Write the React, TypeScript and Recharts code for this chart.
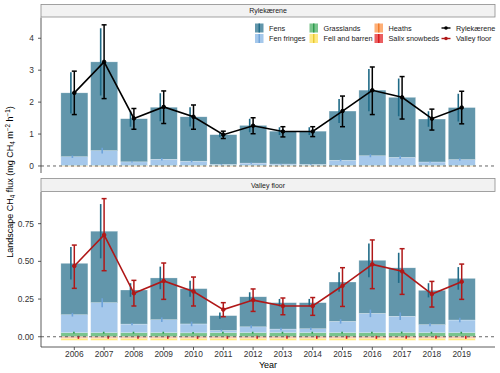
import React from "react";
import { ComposedChart, Bar, Line, XAxis, YAxis, ErrorBar, ReferenceLine } from "recharts";

const years = ["2006", "2007", "2008", "2009", "2010", "2011", "2012", "2013", "2014", "2015", "2016", "2017", "2018", "2019"];

// Rylekærene, mg CH4 m-2 h-1
const ryFens = [2.0, 2.78, 1.35, 1.63, 1.39, 0.93, 1.18, 1.03, 1.04, 1.54, 2.055, 1.88, 1.345, 1.63];
const ryFenFringes = [0.27, 0.46, 0.11, 0.19, 0.13, 0.03, 0.07, 0.04, 0.03, 0.16, 0.3, 0.25, 0.105, 0.18];
const ryGrasslands = [0.02, 0.02, 0.02, 0.02, 0.02, 0.02, 0.02, 0.02, 0.02, 0.02, 0.02, 0.02, 0.02, 0.02];
const ryHeaths = [-0.008, -0.008, -0.008, -0.008, -0.008, -0.008, -0.008, -0.008, -0.008, -0.008, -0.008, -0.008, -0.008, -0.008];
const ryFell = [-0.006, -0.006, -0.006, -0.006, -0.006, -0.006, -0.006, -0.006, -0.006, -0.006, -0.006, -0.006, -0.006, -0.006];
const rySalix = [-0.004, -0.004, -0.004, -0.004, -0.004, -0.004, -0.004, -0.004, -0.004, -0.004, -0.004, -0.004, -0.004, -0.004];
const ryFensErr = [0.645, 1.05, 0.25, 0.44, 0.3, 0.08, 0.21, 0.12, 0.12, 0.375, 0.66, 0.59, 0.245, 0.435];
const ryFringeErr = [0.04, 0.09, 0.02, 0.04, 0.03, 0.01, 0.02, 0.01, 0.01, 0.03, 0.05, 0.05, 0.02, 0.04];
const ryTotal = [2.29, 3.26, 1.49, 1.85, 1.54, 0.98, 1.26, 1.08, 1.08, 1.72, 2.37, 2.15, 1.48, 1.83];
const ryLow = [1.61, 2.11, 1.15, 1.33, 1.15, 0.86, 1.01, 0.91, 0.92, 1.23, 1.61, 1.47, 1.125, 1.32];
const ryHigh = [2.97, 4.42, 1.8, 2.35, 1.91, 1.09, 1.51, 1.23, 1.23, 2.19, 3.1, 2.8, 1.78, 2.34];

// Valley floor
const vfFens = [0.341, 0.474, 0.226, 0.277, 0.234, 0.098, 0.199, 0.175, 0.173, 0.261, 0.352, 0.321, 0.228, 0.276];
const vfFenFringes = [0.119, 0.199, 0.057, 0.086, 0.059, 0.015, 0.039, 0.024, 0.026, 0.075, 0.128, 0.108, 0.053, 0.084];
const vfGrasslands = [0.027, 0.027, 0.027, 0.027, 0.026, 0.027, 0.027, 0.027, 0.027, 0.027, 0.027, 0.028, 0.027, 0.027];
const vfHeaths = [-0.008, -0.008, -0.008, -0.008, -0.008, -0.008, -0.008, -0.008, -0.008, -0.008, -0.008, -0.008, -0.008, -0.008];
const vfFell = [-0.012, -0.012, -0.012, -0.012, -0.012, -0.012, -0.012, -0.012, -0.012, -0.012, -0.012, -0.012, -0.012, -0.012];
const vfSalix = [-0.004, -0.004, -0.004, -0.004, -0.004, -0.004, -0.004, -0.004, -0.004, -0.004, -0.004, -0.004, -0.004, -0.004];
const vfFensErr = [0.108, 0.18, 0.045, 0.075, 0.053, 0.02, 0.03, 0.025, 0.025, 0.065, 0.112, 0.1, 0.047, 0.075];
const vfFringeErr = [0.012, 0.03, 0.008, 0.015, 0.015, 0.005, 0.01, 0.008, 0.008, 0.015, 0.025, 0.025, 0.01, 0.015];
const vfGrassErr = [0.006, 0.006, 0.006, 0.006, 0.006, 0.006, 0.006, 0.006, 0.006, 0.006, 0.006, 0.006, 0.006, 0.006];
const vfSalixErr = [0.01, 0.01, 0.01, 0.01, 0.01, 0.01, 0.01, 0.01, 0.01, 0.01, 0.01, 0.01, 0.01, 0.01];
const vfTotal = [0.469, 0.675, 0.288, 0.37, 0.3, 0.18, 0.243, 0.204, 0.204, 0.338, 0.48, 0.434, 0.283, 0.365];
const vfLow = [0.321, 0.438, 0.204, 0.248, 0.204, 0.133, 0.168, 0.146, 0.142, 0.201, 0.319, 0.281, 0.197, 0.248];
const vfHigh = [0.608, 0.916, 0.374, 0.489, 0.396, 0.226, 0.317, 0.257, 0.26, 0.458, 0.642, 0.584, 0.367, 0.482];

const FONT = "'Liberation Sans', Arial, sans-serif";
const RED = "#b01818";

// stacking order: positives bottom-up, then negatives from zero downwards
const CLASSES = [
  { key: "grass", err: "grassErr", fill: "#41ab5d", line: "#2a9a4a", dx: -0.5 },
  { key: "fringes", err: "fringeErr", fill: "#7fb1e3", line: "#6ea3da", dx: -2 },
  { key: "fens", err: "fensErr", fill: "#1f6a87", line: "#1f6a87", dx: -3.5 },
  { key: "salix", err: "salixErr", fill: "#e31a1c", line: "#d7191c", dx: 4 },
  { key: "heaths", err: "heathErr", fill: "#fd8d3c", line: "#f07a2a", dx: 1 },
  { key: "fell", err: "fellErr", fill: "#fee04f", line: "#e8c830", dx: 2.5 },
];

function makeRows(d: any) {
  return years.map((year, i) => ({
    year,
    fens: d.fens[i],
    fringes: d.fringes[i],
    grass: d.grass[i],
    heaths: d.heaths[i],
    fell: d.fell[i],
    salix: d.salix[i],
    fensErr: d.fensErr ? d.fensErr[i] : 0,
    fringeErr: d.fringeErr ? d.fringeErr[i] : 0,
    grassErr: d.grassErr ? d.grassErr[i] : 0,
    salixErr: d.salixErr ? d.salixErr[i] : 0,
    total: d.total[i],
    totalErr: [d.total[i] - d.low[i], d.high[i] - d.total[i]],
  }));
}

const ryRows = makeRows({
  fens: ryFens, fringes: ryFenFringes, grass: ryGrasslands, heaths: ryHeaths, fell: ryFell, salix: rySalix,
  fensErr: ryFensErr, fringeErr: ryFringeErr, total: ryTotal, low: ryLow, high: ryHigh,
});
const vfRows = makeRows({
  fens: vfFens, fringes: vfFenFringes, grass: vfGrasslands, heaths: vfHeaths, fell: vfFell, salix: vfSalix,
  fensErr: vfFensErr, fringeErr: vfFringeErr, grassErr: vfGrassErr, salixErr: vfSalixErr,
  total: vfTotal, low: vfLow, high: vfHigh,
});

const rectShape = (fill: string) => (p: any) => {
  const h = Math.abs(p.height || 0);
  if (!h) return <g />;
  const top = p.height < 0 ? p.y + p.height : p.y;
  return (
    <rect x={p.x} y={top} width={p.width} height={h} fill={fill} fillOpacity={0.7}
      stroke="#ffffff" strokeOpacity={0.5} strokeWidth={0.5} />
  );
};

// error bar for a class, at the end of its stacked segment, dodged sideways
const errShape = (key: string, errKey: string, color: string, dx: number) => (p: any) => {
  const v = p.payload ? p.payload[key] : 0;
  const e = p.payload ? p.payload[errKey] : 0;
  const h = Math.abs(p.height || 0);
  if (!v || !h || !e) return <g />;
  const ppu = h / Math.abs(v);
  const end = v < 0 && p.height > 0 ? p.y + p.height : p.y;
  const cx = p.x + p.width / 2 + dx;
  return <line x1={cx} x2={cx} y1={end - e * ppu} y2={end + e * ppu} stroke={color} strokeWidth={1.6} />;
};

function Panel({ rows, height, margin, domain, ticks, fmt, color, showX }: any) {
  const axisStyle = { stroke: "#333", strokeWidth: 0.8 };
  return (
    <ComposedChart width={500} height={height} data={rows} margin={margin} stackOffset="sign" barCategoryGap="5%">
      {showX ? (
        <XAxis dataKey="year" padding={{ left: 18.4, right: 18.4 }} height={26} interval={0} tickSize={3} tickMargin={1}
          axisLine={axisStyle} tickLine={axisStyle} tick={{ fill: "#333", fontSize: 8.4, fontFamily: FONT }} />
      ) : (
        <XAxis dataKey="year" padding={{ left: 18.4, right: 18.4 }} hide />
      )}
      <XAxis xAxisId="err" dataKey="year" padding={{ left: 18.4, right: 18.4 }} hide />
      <YAxis width={36} domain={domain} ticks={ticks} allowDataOverflow tickFormatter={fmt} tickSize={3} tickMargin={4}
        axisLine={axisStyle} tickLine={axisStyle} tick={{ fill: "#333", fontSize: 8.4, fontFamily: FONT }} />
      {CLASSES.map((c) => (
        <Bar key={c.key} dataKey={c.key} stackId="s" isAnimationActive={false} shape={rectShape(c.fill)} />
      ))}
      {CLASSES.map((c) => (
        <Bar key={"e" + c.key} xAxisId="err" dataKey={c.key} stackId="e" isAnimationActive={false}
          shape={errShape(c.key, c.err, c.line, c.dx)} />
      ))}
      <ReferenceLine y={0} stroke="#555" strokeDasharray="3 3" strokeWidth={0.9} />
      <Line dataKey="total" stroke={color} strokeWidth={1.6} isAnimationActive={false}
        dot={{ r: 1.8, fill: color, stroke: color, strokeWidth: 1 }}>
        <ErrorBar dataKey="totalErr" direction="y" width={2.5} strokeWidth={1.5} stroke={color} />
      </Line>
    </ComposedChart>
  );
}

const legendBars = [
  { name: "Fens", fill: "#1f6a87", line: "#1f6a87", x: 255, row: 0 },
  { name: "Fen fringes", fill: "#7fb1e3", line: "#6ea3da", x: 255, row: 1 },
  { name: "Grasslands", fill: "#41ab5d", line: "#2a9a4a", x: 309.5, row: 0 },
  { name: "Fell and barren", fill: "#fee04f", line: "#e8c830", x: 309.5, row: 1 },
  { name: "Heaths", fill: "#fd8d3c", line: "#f07a2a", x: 374.5, row: 0 },
  { name: "Salix snowbeds", fill: "#e31a1c", line: "#d7191c", x: 374.5, row: 1 },
];
const legendLines = [
  { name: "Rylekærene", color: "#000", row: 0 },
  { name: "Valley floor", color: RED, row: 1 },
];

export default function App() {
  const rowY = [28, 38.5];
  return (
    <div style={{ position: "absolute", left: 0, top: 0, width: 500, height: 373, background: "#fff", fontFamily: FONT }}>
      <div style={{ position: "absolute", left: 0, top: 0 }}>
        <Panel rows={ryRows} height={175} margin={{ top: 17.5, right: 5, bottom: 2, left: 5 }}
          domain={[-0.22, 4.65]} ticks={[0, 1, 2, 3, 4]} fmt={(v: number) => String(v)} color="#000" showX={false} />
      </div>
      <div style={{ position: "absolute", left: 0, top: 175 }}>
        <Panel rows={vfRows} height={198} margin={{ top: 17, right: 5, bottom: 0, left: 5 }}
          domain={[-0.068, 0.96]} ticks={[0, 0.25, 0.5, 0.75]} fmt={(v: number) => v.toFixed(2)} color={RED} showX />
      </div>
      <svg width={500} height={373} style={{ position: "absolute", left: 0, top: 0, pointerEvents: "none" }}
        fontFamily={FONT}>
        <rect x={41} y={4.5} width={454} height={12.5} fill="#f2f2f2" stroke="#8c8c8c" strokeWidth={0.8} />
        <text x={268} y={13.3} textAnchor="middle" fontSize={7} fill="#1a1a1a">Rylekærene</text>
        <rect x={41} y={178.5} width={454} height={13} fill="#f2f2f2" stroke="#8c8c8c" strokeWidth={0.8} />
        <text x={268} y={187.6} textAnchor="middle" fontSize={7} fill="#1a1a1a">Valley floor</text>

        {legendBars.map((b) => (
          <g key={b.name}>
            <rect x={b.x} y={rowY[b.row] - 4.5} width={8.5} height={9} fill={b.fill} fillOpacity={0.7} />
            <line x1={b.x + 4.25} x2={b.x + 4.25} y1={rowY[b.row] - 4.5} y2={rowY[b.row] + 4.5} stroke={b.line} strokeWidth={1.4} />
            <text x={b.x + 14} y={rowY[b.row] + 2.5} fontSize={7.3} fill="#222">{b.name}</text>
          </g>
        ))}
        {legendLines.map((l) => (
          <g key={l.name}>
            <line x1={441.5} x2={450.5} y1={rowY[l.row]} y2={rowY[l.row]} stroke={l.color} strokeWidth={1.4} />
            <circle cx={446} cy={rowY[l.row]} r={1.8} fill={l.color} />
            <text x={456} y={rowY[l.row] + 2.5} fontSize={7.3} fill="#222">{l.name}</text>
          </g>
        ))}

        <text transform="translate(13,182) rotate(-90)" textAnchor="middle" fontSize={9} fill="#000">
          Landscape CH<tspan fontSize={6.3} dy={2}>4</tspan>
          <tspan dy={-2}> flux (mg CH</tspan>
          <tspan fontSize={6.3} dy={2}>4</tspan>
          <tspan dy={-2}> m</tspan>
          <tspan fontSize={6.3} dy={-3.5}>−2</tspan>
          <tspan dy={3.5}> h</tspan>
          <tspan fontSize={6.3} dy={-3.5}>−1</tspan>
          <tspan dy={3.5}>)</tspan>
        </text>
        <text x={268} y={368} textAnchor="middle" fontSize={9} fill="#000">Year</text>
      </svg>
    </div>
  );
}
